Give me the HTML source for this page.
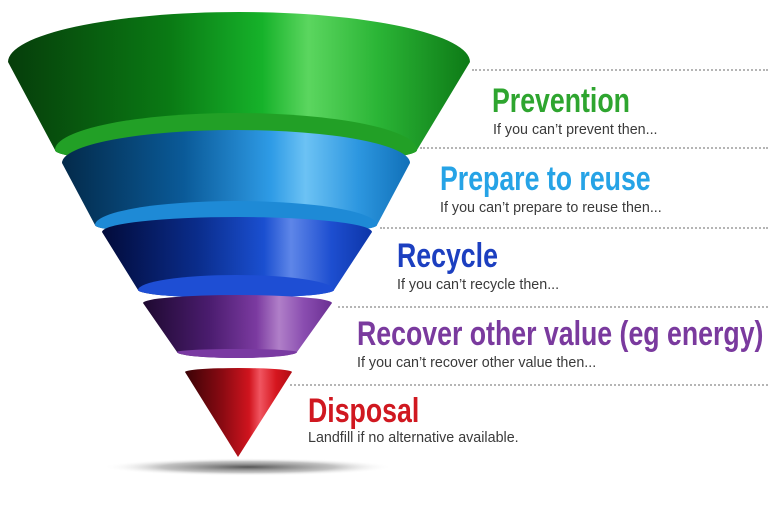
<!DOCTYPE html>
<html><head><meta charset="utf-8"><style>
html,body{margin:0;padding:0;background:#fff;width:768px;height:511px;overflow:hidden;position:relative;font-family:"Liberation Sans",sans-serif}
.t{position:absolute;font-size:34px;line-height:34px;font-weight:bold;transform:scaleX(0.785);transform-origin:0 0;white-space:nowrap}
.s{position:absolute;font-size:14.3px;color:#3a3a3a;white-space:nowrap}
.d{position:absolute;right:0;border-top:2.5px dotted #b5b5b5;height:0}
</style></head><body>
<svg width="768" height="511" style="position:absolute;left:0;top:0">
<defs>
<radialGradient id="sh" cx="0.5" cy="0.5" r="0.5"><stop offset="0" stop-color="#555"/><stop offset="0.6" stop-color="#999" stop-opacity="0.6"/><stop offset="1" stop-color="#fff" stop-opacity="0"/></radialGradient>
<linearGradient id="g" x1="0" x2="1"><stop offset="0" stop-color="#063d0a"/><stop offset="0.35" stop-color="#0a7a14"/><stop offset="0.55" stop-color="#16b22a"/><stop offset="0.65" stop-color="#5bd65f"/><stop offset="0.8" stop-color="#2bb536"/><stop offset="1" stop-color="#0d7a16"/></linearGradient>
<linearGradient id="b" x1="0" x2="1"><stop offset="0" stop-color="#032a4a"/><stop offset="0.35" stop-color="#0a5a98"/><stop offset="0.6" stop-color="#2e9be6"/><stop offset="0.7" stop-color="#6cc2f4"/><stop offset="0.85" stop-color="#2d97e0"/><stop offset="1" stop-color="#1070b8"/></linearGradient>
<linearGradient id="n" x1="0" x2="1"><stop offset="0" stop-color="#020b3a"/><stop offset="0.35" stop-color="#0a2c8a"/><stop offset="0.6" stop-color="#1a4fd0"/><stop offset="0.7" stop-color="#5e86e8"/><stop offset="0.85" stop-color="#1d4ed0"/><stop offset="1" stop-color="#0d35a8"/></linearGradient>
<linearGradient id="p" x1="0" x2="1"><stop offset="0" stop-color="#1e0930"/><stop offset="0.35" stop-color="#4a1c6e"/><stop offset="0.6" stop-color="#7b3aa0"/><stop offset="0.72" stop-color="#b07fc8"/><stop offset="0.85" stop-color="#8a4db0"/><stop offset="1" stop-color="#6a2f92"/></linearGradient>
<linearGradient id="r" x1="0" x2="1"><stop offset="0" stop-color="#3a0206"/><stop offset="0.35" stop-color="#8a0a12"/><stop offset="0.6" stop-color="#d0141e"/><stop offset="0.7" stop-color="#f05560"/><stop offset="0.85" stop-color="#d6161f"/><stop offset="1" stop-color="#b00c14"/></linearGradient>
</defs>
<ellipse cx="248" cy="467" rx="145" ry="9" fill="url(#sh)"/>
<path d="M8,62 A231,50 0 0 1 470,62 L417,150 A181,15 0 0 1 55,150 Z" fill="url(#g)"/>
<path d="M55,150 A181,37 0 0 1 417,150 A181,15 0 0 1 55,150 Z" fill="#22a026"/>
<path d="M62,163 A174,33 0 0 1 410,163 L377,225 A141,10 0 0 1 95,225 Z" fill="url(#b)"/>
<path d="M95,225 A141,24 0 0 1 377,225 A141,10 0 0 1 95,225 Z" fill="#1e8ad6"/>
<path d="M102,232 A135,15 0 0 1 372,232 L334,290 A98,8 0 0 1 138,290 Z" fill="url(#n)"/>
<path d="M138,290 A98,15 0 0 1 334,290 A98,8 0 0 1 138,290 Z" fill="#1e4ed4"/>
<path d="M143,303 A94.5,8 0 0 1 332,303 L297,352 A60,6 0 0 1 177,352 Z" fill="url(#p)"/>
<path d="M177,352 A60,3 0 0 1 297,352 A60,6 0 0 1 177,352 Z" fill="#7a3aa2"/>
<path d="M185,372 A53.5,4 0 0 1 292,372 L238,457 Z" fill="url(#r)"/>
</svg>
<div class="d" style="left:472px;top:69px"></div>
<div class="d" style="left:420px;top:147px"></div>
<div class="d" style="left:380px;top:227px"></div>
<div class="d" style="left:338px;top:306px"></div>
<div class="d" style="left:290px;top:384px"></div>
<div class="t" style="left:492px;top:84px;color:#2ea52f">Prevention</div>
<div class="s" style="left:493px;top:122px">If you can’t prevent then...</div>
<div class="t" style="left:440px;top:162px;color:#26a3e6">Prepare to reuse</div>
<div class="s" style="left:440px;top:200px">If you can’t prepare to reuse then...</div>
<div class="t" style="left:397px;top:239px;color:#1c3fc0">Recycle</div>
<div class="s" style="left:397px;top:277px">If you can’t recycle then...</div>
<div class="t" style="left:357px;top:317px;color:#7a3a9e">Recover other value (eg energy)</div>
<div class="s" style="left:357px;top:355px">If you can’t recover other value then...</div>
<div class="t" style="left:308px;top:394px;color:#d01820">Disposal</div>
<div class="s" style="left:308px;top:430px">Landfill if no alternative available.</div>
</body></html>
